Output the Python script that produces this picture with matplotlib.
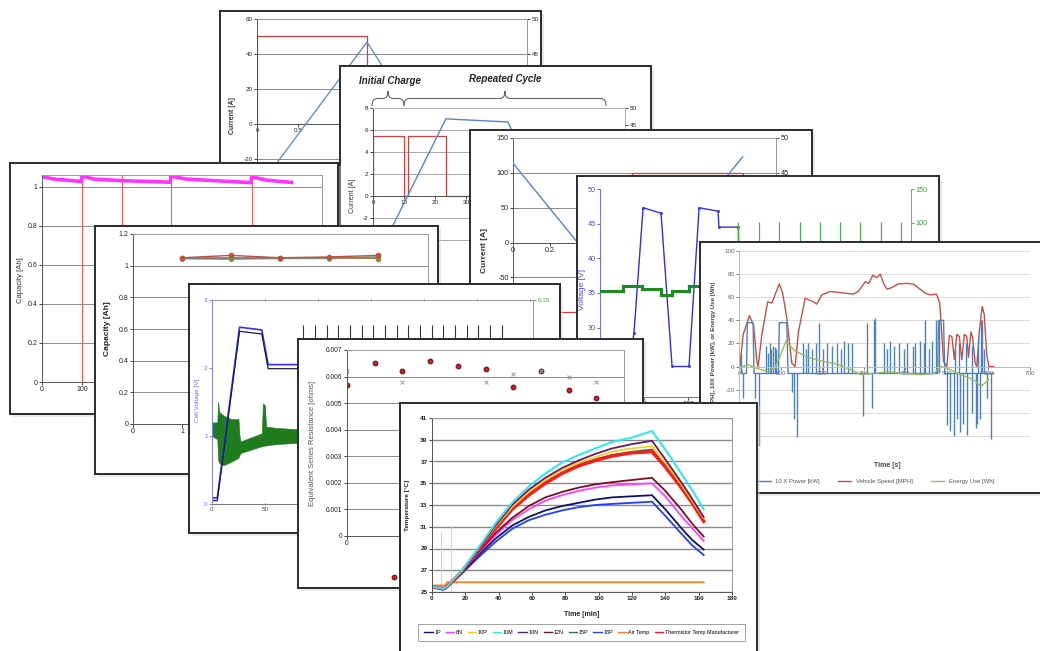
import matplotlib
matplotlib.use("Agg")
import matplotlib.pyplot as plt
from matplotlib.patches import Rectangle, PathPatch
from matplotlib.path import Path
from matplotlib.lines import Line2D

plt.rcParams['font.family'] = ['Liberation Sans', 'DejaVu Sans']
plt.rcParams['axes.linewidth'] = 0.7

# ---------------- Card A : pulse current / voltage ----------------
A_t_current = [0, 0, 1.34, 1.34, 3.3]
A_current = [0, 50, 50, -40, -40]
A_t_voltage = [0.22, 1.34, 1.52, 2.3]
A_voltage = [29.1, 46.7, 43.4, 31.0]
A_yticks = [-40, -20, 0, 20, 40, 60]
A_yticklabels = ['', '-20', '0', '20', '40', '60']
A_xticks = [0, 0.5, 1, 1.5, 2, 2.5, 3]
A_xticklabels = ['0', '0.5', '', '', '', '', '']
A_rticks = [25, 30, 35, 40, 45, 50]
A_rticklabels = ['', '', '', '', '45', '50']

# ---------------- Card B : initial charge / repeated cycle ----------------
B_t_current = [0, 0, 10, 10, 11.3, 11.3, 23.5, 23.5, 81]
B_current = [0, 5.5, 5.5, 0, 0, 5.5, 5.5, 0, 0]
B_t_voltage = [3, 6.5, 23.5, 43.5, 45.5, 50]
B_voltage = [5, 15.6, 46.8, 45.9, 42.0, 35.0]
B_yticks = [-6, -4, -2, 0, 2, 4, 6, 8]
B_yticklabels = ['', '', '-2', '0', '2', '4', '6', '8']
B_xticks = [0, 10, 20, 30, 40, 50, 60, 70, 80]
B_xticklabels = ['0', '10', '20', '30', '', '', '', '', '']
B_rticks = [5, 10, 15, 20, 25, 30, 35, 40, 45, 50]
B_rticklabels = ['', '', '', '', '', '', '', '', '45', '50']
B_titles = ['Initial Charge', 'Repeated Cycle']

# ---------------- Card C : current / voltage ----------------
C_t_current = [0, 0.64, 0.64, 1.24, 1.24, 1.42]
C_current = [-100, -100, 100, 100, -100, -100]
C_t_voltage = [0, 0.35, 0.6, 1.16, 1.24]
C_voltage = [46.4, 35.0, 30.0, 44.7, 47.3]
C_yticks = [-150, -100, -50, 0, 50, 100, 150]
C_yticklabels = ['', '', '-50', '0', '50', '100', '150']
C_xticks = [0, 0.2, 0.4, 0.6, 0.8, 1.0, 1.2, 1.4]
C_xticklabels = ['0', '0.2', '', '', '', '', '', '']
C_rticks = [25, 30, 35, 40, 45, 50]
C_rticklabels = ['', '', '', '', '45', '50']

# ---------------- Card D : voltage + green signal ----------------
D_t_voltage = [30, 38.6, 48.9, 69.3, 81.8, 101, 112.5, 134, 135, 157, 158, 200]
D_voltage = [22, 29.3, 47.3, 46.5, 24.4, 24.4, 47.3, 46.8, 44.5, 44.5, 38, 30]
D_t_green = [0, 26, 26, 48, 48, 69, 69, 82, 82, 101, 101, 160]
D_green = [0, 0, 7, 7, 3, 3, -6, -6, 0, 0, 7, 7]
D_spike_t = [157, 180.7, 203.4, 227.3, 250, 272.7, 295.5, 319.3, 342]
D_spike_top = [101, 101, 101, 101, 101, 101, 101, 101, 101]
D_yticks = [20, 25, 30, 35, 40, 45, 50]
D_yticklabels = ['', '', '30', '35', '40', '45', '50']
D_rticks = [-150, -100, -50, 0, 50, 100, 150]
D_rticklabels = ['', '', '', '', '', '100', '150']
D_xticks = [0, 50, 100, 150, 200, 250, 300, 350]
D_xticklabels = ['', '50', '100', '', '', '', '', '']

# ---------------- Card E : capacity vs cycle ----------------
E_t = [0, 30, 99, 100, 130, 200, 321, 322, 360, 450, 523, 524, 560, 624]
E_cap = [1.053, 1.04, 1.028, 1.056, 1.04, 1.032, 1.024, 1.056, 1.04, 1.03, 1.022, 1.052, 1.035, 1.023]
E_red_t = [100, 200, 322, 524]
E_yticks = [0, 0.2, 0.4, 0.6, 0.8, 1.0]
E_yticklabels = ['0', '0.2', '0.4', '0.6', '0.8', '1']
E_xticks = [0, 100, 200, 300, 400, 500, 600, 700]
E_xticklabels = ['0', '100', '', '', '', '', '', '']

# ---------------- Card F : capacity of several cells ----------------
F_x = [1, 2, 3, 4, 5]
F_red = [1.05, 1.065, 1.05, 1.055, 1.065]
F_olive = [1.05, 1.05, 1.05, 1.05, 1.045]
F_blue = [1.045, 1.045, 1.05, 1.05, 1.055]
F_grey = [1.045, 1.04, 1.045, 1.045, 1.05]
F_yticks = [0, 0.2, 0.4, 0.6, 0.8, 1.0, 1.2]
F_yticklabels = ['0', '0.2', '0.4', '0.6', '0.8', '1', '1.2']
F_xticks = [0, 1, 2, 3, 4, 5, 6]
F_xticklabels = ['0', '1', '', '', '', '', '']

# ---------------- Card G : cell voltage + current band ----------------
G_t_blue = [0, 5, 26, 47, 53, 300]
G_blue = [0.09, 0.09, 2.6, 2.56, 2.05, 2.05]
G_t_dark = [0, 5, 26, 47, 53, 300]
G_dark = [0.05, 0.05, 2.54, 2.5, 1.99, 1.99]
G_t_band = [0, 5, 5.7, 7, 11, 18, 25, 26, 27, 37, 47, 48, 50, 51, 60, 81, 100]
G_band_hi = [0.060, 0.060, 0.075, 0.0675, 0.065, 0.0625, 0.0625, 0.050, 0.046, 0.049,
             0.052, 0.074, 0.0725, 0.057, 0.056, 0.055, 0.055]
G_band_lo = [0.050, 0.0475, 0.0325, 0.030, 0.0285, 0.031, 0.034, 0.036, 0.0375, 0.040,
             0.0425, 0.0425, 0.043, 0.043, 0.044, 0.045, 0.045]
G_spike_t = [86, 97, 108.5, 119, 130, 141.5, 152, 163, 174.5, 185, 196, 207.5, 218, 229,
             240.5, 251, 262, 273.5]
G_spike_top = [2.63] * 18
G_yticks = [0, 1, 2, 3]
G_xticks = [0, 50, 100, 150, 200, 250, 300]
G_xticklabels = ['0', '50', '', '', '', '', '']
G_rticks = [0, 0.05, 0.1, 0.15]
G_rticklabels = ['', '', '', '0.15']

# ---------------- Card H : equivalent series resistance ----------------
H_x = [0, 1, 2, 3, 4, 5, 6, 7, 8, 9]
H_red = [0.0057, 0.0065, 0.0062, 0.0066, 0.0064, 0.0063, 0.0056, 0.0062, 0.0055, 0.0052]
H_x_grey = [0, 2, 5, 6, 7, 8, 9]
H_grey = [0.0062, 0.0058, 0.0058, 0.0061, 0.0062, 0.0060, 0.0058]
H_yticks = [0, 0.001, 0.002, 0.003, 0.004, 0.005, 0.006, 0.007]
H_yticklabels = ['0', '0.001', '0.002', '0.003', '0.004', '0.005', '0.006', '0.007']
H_xticks = [0, 2, 4, 6, 8, 10]
H_xticklabels = ['0', '2', '', '', '', '']
H_labels = ['R (Start)', 'R (End)']

# ---------------- Card I : drive cycle ----------------
I_t_speed = [0, 2, 10, 25, 35, 43, 46, 55, 69, 79, 85, 97, 105, 115, 127, 135, 143, 159, 178,
             187, 199, 219, 243, 275, 287, 304, 312, 322, 332, 340, 348, 356, 364, 384, 404,
             420, 448, 460, 475, 483, 492, 500, 506, 512, 518, 524, 530, 536, 542, 548, 552,
             558, 562, 568, 572, 578, 585, 590, 596, 601, 613]
I_speed = [0, 0, 27.6, 44, 36, 4.6, 0, 27.6, 56, 55, 60.6, 71.6, 63.5, 42, 3, 0, 30, 59, 56.3,
           54, 62, 65, 64, 62.7, 65, 73.5, 72, 79, 77, 80, 71.6, 67, 67.8, 71.6, 72, 71.3,
           63.5, 62, 62.7, 55, 4.6, 0, 27, 26, 6, 28, 26, 6, 28, 26, 8, 30, 25, 3, 0, 30, 52,
           45, 10, 0, 0]
I_t_pbase = [0, 8, 18, 20, 34, 36, 60, 95, 97, 115, 118, 478, 480, 492, 495, 613]
I_pbase = [8, -6, -6, 38, 38, -6, -6, -6, 38, 38, -6, -6, 40, 40, -6, -6]
I_up_t = [5, 65, 70, 74, 78, 82, 86, 90, 155, 160, 167, 175, 186, 193, 203, 211, 223, 235, 245,
          253, 263, 271, 308, 324, 328, 348, 356, 364, 374, 384, 396, 404, 418, 424, 436, 444,
          448, 456, 464, 475, 481, 520, 530, 545, 560, 575, 581, 585, 590]
I_up_v = [12, 18, 12, 20, 15, 18, 17, 15, 20, 15, 20, 15, 20, 38, 15, 20, 18, 20, 15, 22, 20,
          20, 38, 40, 42, 20, 15, 22, 18, 20, 15, 20, 18, 20, 22, 20, 40, 15, 22, 40, 40, 15,
          20, 20, 18, 25, 40, 40, 15]
I_dn_t = [10, 39, 49, 127, 133, 139, 298, 320, 500, 508, 516, 524, 532, 540, 549, 560, 569,
          573, 580, 597, 605]
I_dn_v = [-27, -27, -69, -22, -45, -61, -43, -36, -51, -56, -60, -45, -57, -50, -59, -40, -53,
          -50, -45, -27, -63]
I_t_energy = [0, 22, 42, 66, 86, 100, 113, 133, 165, 197, 237, 277, 293, 325, 357, 397, 437,
              469, 485, 501, 533, 565, 581, 593, 601]
I_energy = [-1, 1.5, -1.5, -4, -1.5, 10, 22, 14, 8, 5, 2, -4, -7, -6, -4.5, -6, -7, -6, 0,
            -1.5, -7, -11.5, -17, -14, -11]
I_yticks = [-80, -60, -40, -20, 0, 20, 40, 60, 80, 100]
I_yticklabels = ['', '', '', '-20', '0', '20', '40', '60', '80', '100']
I_xticks = [0, 100, 200, 300, 400, 500, 600, 700]
I_labels = ['10 X Power [kW]', 'Vehicle Speed [MPH]', 'Energy Use [Wh]']

# ---------------- Card J : temperatures ----------------
J_t = [0, 7, 9, 18, 28, 38, 48, 58, 68, 78, 88, 98, 108, 120, 132, 140, 150, 156, 163]
J_1P = [25.5, 25.3, 25.5, 26.8, 28.4, 29.9, 31.1, 31.9, 32.5, 32.9, 33.2, 33.5, 33.7, 33.8, 33.9, 32.6, 30.8, 29.8, 28.9]
J_6N = [25.5, 25.3, 25.5, 26.9, 28.6, 30.2, 31.6, 32.6, 33.4, 33.9, 34.3, 34.6, 34.8, 34.9, 35.0, 33.8, 31.9, 30.9, 29.7]
J_10P = [25.5, 25.3, 25.5, 27.0, 29.0, 31.0, 32.8, 34.2, 35.3, 36.2, 36.9, 37.4, 37.9, 38.2, 38.4, 36.9, 34.8, 33.4, 31.8]
J_10M = [25.5, 25.3, 25.5, 27.0, 29.1, 31.3, 33.2, 34.7, 35.9, 36.9, 37.6, 38.2, 38.8, 39.2, 39.8, 38.1, 35.8, 34.4, 32.6]
J_10N = [25.5, 25.3, 25.5, 27.0, 29.0, 31.1, 33.0, 34.4, 35.5, 36.4, 37.1, 37.7, 38.2, 38.6, 38.9, 37.2, 35.0, 33.6, 31.9]
J_12N = [25.5, 25.3, 25.5, 26.9, 28.7, 30.4, 31.8, 32.9, 33.7, 34.2, 34.6, 34.9, 35.1, 35.3, 35.5, 34.3, 32.5, 31.3, 30.1]
J_15P = [25.5, 25.3, 25.5, 26.9, 28.9, 30.9, 32.7, 34.0, 35.1, 36.0, 36.7, 37.2, 37.6, 37.9, 38.1, 36.6, 34.6, 33.3, 31.6]
J_18P = [25.4, 25.2, 25.4, 26.7, 28.2, 29.6, 30.8, 31.6, 32.1, 32.5, 32.8, 33.0, 33.1, 33.2, 33.3, 32.0, 30.3, 29.3, 28.4]
J_therm = [25.5, 25.3, 25.5, 26.9, 28.9, 30.8, 32.6, 33.9, 35.0, 35.9, 36.6, 37.1, 37.5, 37.8, 37.9, 36.5, 34.5, 33.2, 31.5]
J_t_air = [0, 8, 9, 163]
J_air = [25.6, 25.6, 25.9, 25.9]
J_glitch_t = [5.4, 11.4]
J_glitch_top = [30.5, 31.2]
J_yticks = [25, 27, 29, 31, 33, 35, 37, 39, 41]
J_xticks = [0, 20, 40, 60, 80, 100, 120, 140, 160, 180]
J_labels = ['1P', '6N', '10P', '10M', '10N', '12N', '15P', '18P', 'Air Temp',
            'Thermistor Temp Manufacturer']

# ====================================================================
W, H = 1040.0, 651.0
fig = plt.figure(figsize=(10.4, 6.51), dpi=100)
fig.patch.set_facecolor('white')


def rect(x0, y0, x1, y1):
    return [x0 / W, 1 - y1 / H, (x1 - x0) / W, (y1 - y0) / H]


_n = [0]


def make_card(x0, y0, x1, y1, z):
    sh = Rectangle(((x0 + 3) / W, 1 - (y1 + 3) / H), (x1 - x0) / W, (y1 - y0) / H,
                   transform=fig.transFigure, facecolor='#cfcfcf', edgecolor='none',
                   alpha=0.45, zorder=z - 0.5)
    fig.add_artist(sh)
    _n[0] += 1
    c = fig.add_axes(rect(x0, y0, x1, y1), zorder=z, label='card%d' % _n[0])
    c.set_xlim(x0, x1)
    c.set_ylim(y1, y0)
    c.set_xticks([])
    c.set_yticks([])
    c.set_facecolor('white')
    for s in c.spines.values():
        s.set_color('#2b2b2b')
        s.set_linewidth(1.4)
    return c


def make_plot(x0, y0, x1, y1, z, size=4.5, color='#222222', dz=0.1):
    _n[0] += 1
    ax = fig.add_axes(rect(x0, y0, x1, y1), zorder=z + dz, label='plot%d' % _n[0])
    ax.patch.set_visible(False)
    ax.tick_params(labelsize=size, length=2, width=0.6, pad=1.2, colors=color)
    return ax


def make_right(x0, y0, x1, y1, z, xlim, size=4.5, color='#222222', dz=0.2):
    _n[0] += 1
    ax = fig.add_axes(rect(x0, y0, x1, y1), zorder=z + dz, label='right%d' % _n[0])
    ax.patch.set_visible(False)
    ax.set_xlim(*xlim)
    ax.xaxis.set_visible(False)
    ax.yaxis.tick_right()
    for k in ['left', 'top', 'bottom']:
        ax.spines[k].set_visible(False)
    ax.tick_params(labelsize=size, length=2, width=0.6, pad=1.2, colors=color)
    return ax


def grey_frame(ax, color='#9a9a9a'):
    ax.spines['top'].set_color(color)
    ax.spines['right'].set_color(color)
    ax.spines['left'].set_color('#555555')
    ax.spines['bottom'].set_color('#555555')


def brace(card_ax, x0, x1, y_end, y_tip, r=5):
    xm = (x0 + x1) / 2.0
    yb = (y_end + y_tip) / 2.0
    verts = [(x0, y_end), (x0, yb), (x0 + r, yb), (xm - r, yb), (xm, yb), (xm, y_tip),
             (xm, yb), (xm + r, yb), (x1 - r, yb), (x1, yb), (x1, y_end)]
    codes = [Path.MOVETO, Path.CURVE3, Path.CURVE3, Path.LINETO, Path.CURVE3, Path.CURVE3,
             Path.CURVE3, Path.CURVE3, Path.LINETO, Path.CURVE3, Path.CURVE3]
    card_ax.add_patch(PathPatch(Path(verts, codes), fill=False, edgecolor='#666666', lw=0.8))


RED = '#d2403c'
BLUE = '#5b82c8'

# ---------------- Card A ----------------
z = 10
ca = make_card(220, 11, 541, 245, z)
A_xlim = (0, 3.29)
ax = make_plot(257, 19, 527, 211.5, z)
ax.plot(A_t_current, A_current, color=RED, lw=0.9)
ax.set_xlim(*A_xlim)
ax.set_ylim(-50, 60)
ax.set_yticks(A_yticks)
ax.set_yticklabels(A_yticklabels)
ax.set_xticks(A_xticks)
ax.set_xticklabels(A_xticklabels)
ax.spines['bottom'].set_position(('data', 0))
ax.yaxis.grid(True, color='#8a8a8a', lw=0.7)
ax.set_axisbelow(True)
grey_frame(ax)
ax2 = make_right(257, 19, 527, 211.5, z, A_xlim)
ax2.plot(A_t_voltage, A_voltage, color=BLUE, lw=0.9)
ax2.set_ylim(22.5, 50)
ax2.set_yticks(A_rticks)
ax2.set_yticklabels(A_rticklabels)
ax2.spines['right'].set_color('#9a9a9a')
ca.text(232, 116, 'Current [A]', rotation=90, fontsize=5, fontweight='bold',
        ha='center', va='center', color='#333333')

# ---------------- Card B ----------------
z = 20
cb = make_card(340, 66, 651, 300, z)
B_xlim = (0, 81.3)
ax = make_plot(373, 108, 625, 262, z)
ax.plot(B_t_current, B_current, color=RED, lw=0.9)
ax.set_xlim(*B_xlim)
ax.set_ylim(-6, 8)
ax.set_yticks(B_yticks)
ax.set_yticklabels(B_yticklabels)
ax.set_xticks(B_xticks)
ax.set_xticklabels(B_xticklabels)
ax.spines['bottom'].set_position(('data', 0))
ax.yaxis.grid(True, color='#9a9a9a', lw=0.6)
ax.set_axisbelow(True)
grey_frame(ax, '#b0b0b0')
ax2 = make_right(373, 108, 625, 262, z, B_xlim)
ax2.plot(B_t_voltage, B_voltage, color=BLUE, lw=1.0)
ax2.set_ylim(4.7, 50)
ax2.set_yticks(B_rticks)
ax2.set_yticklabels(B_rticklabels)
ax2.spines['right'].set_color('#b0b0b0')
cb.text(390, 81, B_titles[0], fontsize=7, fontweight='bold', style='italic',
        ha='center', va='center', color='#222222')
cb.text(505, 79, B_titles[1], fontsize=7, fontweight='bold', style='italic',
        ha='center', va='center', color='#222222')
brace(cb, 372, 404, 106, 91)
brace(cb, 404, 606, 106, 91)
cb.text(352, 196, 'Current [A]', rotation=90, fontsize=5, ha='center', va='center',
        color='#333333')

# ---------------- Card C ----------------
z = 30
cc = make_card(470, 130, 812, 360, z)
C_xlim = (0, 1.42)
ax = make_plot(513, 138, 776, 347, z, size=5.2)
ax.plot(C_t_current, C_current, color=RED, lw=0.9)
ax.set_xlim(*C_xlim)
ax.set_ylim(-150, 150)
ax.set_yticks(C_yticks)
ax.set_yticklabels(C_yticklabels)
ax.set_xticks(C_xticks)
ax.set_xticklabels(C_xticklabels)
ax.spines['bottom'].set_position(('data', 0))
ax.yaxis.grid(True, color='#8a8a8a', lw=0.7)
ax.set_axisbelow(True)
grey_frame(ax)
ax2 = make_right(513, 138, 776, 347, z, C_xlim, size=5.2)
ax2.plot(C_t_voltage, C_voltage, color=BLUE, lw=1.0)
ax2.set_ylim(20.1, 50)
ax2.set_yticks(C_rticks)
ax2.set_yticklabels(C_rticklabels)
ax2.spines['right'].set_color('#9a9a9a')
cc.text(484, 250, 'Current [A]', rotation=90, fontsize=6, fontweight='bold',
        ha='center', va='center', color='#333333')

# ---------------- Card D ----------------
z = 40
cd = make_card(577, 176, 939, 410, z)
D_xlim = (0, 353)
ax = make_plot(600, 189, 911, 397, z, size=5.2, color='#4a4ae0')
ax.plot(D_t_voltage, D_voltage, color='#3030e0', lw=1.0, marker='.', ms=2)
ax.set_xlim(*D_xlim)
ax.set_ylim(20, 50)
ax.set_yticks(D_yticks)
ax.set_yticklabels(D_yticklabels)
ax.set_xticks(D_xticks)
ax.set_xticklabels(D_xticklabels)
ax.tick_params(axis='x', colors='#333333')
ax.spines['left'].set_color('#6a6aff')
ax.spines['top'].set_visible(False)
ax.spines['right'].set_visible(False)
ax.spines['bottom'].set_color('#777777')
ax2 = make_right(600, 189, 911, 397, z, D_xlim, size=5.2, color='#3c9a3c')
ax2.plot(D_t_green, D_green, color='#1f8a1f', lw=2.2, marker='s', ms=1.5)
ax2.vlines(D_spike_t, 0, D_spike_top, color='#4caf50', lw=0.9)
ax2.set_ylim(-156, 150)
ax2.set_yticks(D_rticks)
ax2.set_yticklabels(D_rticklabels)
ax2.spines['right'].set_color('#5cb85c')
cd.text(583, 290, 'Voltage [V]', rotation=90, fontsize=6, ha='center', va='center',
        color='#4a4ae0')

# ---------------- Card E ----------------
z = 50
ce = make_card(10, 163, 338, 414, z)
ax = make_plot(42, 175, 322, 382, z, size=5)
for t in E_red_t:
    ax.axvline(t, color='#ff5a5a', lw=0.8)
ax.plot(E_t, E_cap, color='#ff33ff', lw=2.6)
ax.set_xlim(0, 700)
ax.set_ylim(0, 1.061)
ax.set_yticks(E_yticks)
ax.set_yticklabels(E_yticklabels)
ax.set_xticks(E_xticks)
ax.set_xticklabels(E_xticklabels)
ax.yaxis.grid(True, color='#8a8a8a', lw=0.7)
ax.set_axisbelow(True)
grey_frame(ax)
ce.text(21, 280, 'Capacity [Ah]', rotation=90, fontsize=5.5, ha='center', va='center',
        color='#333333')

# ---------------- Card F ----------------
z = 60
cf = make_card(95, 226, 438, 474, z)
ax = make_plot(133, 234, 428, 424, z, size=5)
ax.plot(F_x, F_grey, color='#9a9ab0', lw=1.0, marker='o', ms=2.5)
ax.plot(F_x, F_blue, color='#6a7fc0', lw=1.0, marker='o', ms=2.5)
ax.plot(F_x, F_olive, color='#8a8a3a', lw=1.0, marker='o', ms=3)
ax.plot(F_x, F_red, color='#c0503c', lw=1.0, marker='o', ms=3)
ax.set_xlim(0, 6.02)
ax.set_ylim(0, 1.2)
ax.set_yticks(F_yticks)
ax.set_yticklabels(F_yticklabels)
ax.set_xticks(F_xticks)
ax.set_xticklabels(F_xticklabels)
ax.yaxis.grid(True, color='#8a8a8a', lw=0.7)
ax.set_axisbelow(True)
grey_frame(ax)
cf.text(108, 329, 'Capacity [Ah]', rotation=90, fontsize=6, fontweight='bold',
        ha='center', va='center', color='#222222')

# ---------------- Card G ----------------
z = 70
cg = make_card(189, 284, 560, 533, z)
G_xlim = (0, 303)
ax2 = make_right(212, 300, 533, 504, z, G_xlim, size=4.5, color='#44aa44', dz=0.05)
ax2.fill_between(G_t_band, G_band_lo, G_band_hi, color='#1e7b1e', lw=0.4)
ax2.set_ylim(0, 0.15)
ax2.set_yticks(G_rticks)
ax2.set_yticklabels(G_rticklabels)
ax2.spines['right'].set_color('#66bb66')
ax = make_plot(212, 300, 533, 504, z, size=4.5, color='#6a6aff')
ax.plot(G_t_blue, G_blue, color='#2f2fff', lw=1.2)
ax.plot(G_t_dark, G_dark, color='#1a1a55', lw=0.9)
ax.vlines(G_spike_t, 1.95, G_spike_top, color='#333333', lw=0.8)
ax.set_xlim(*G_xlim)
ax.set_ylim(0, 3)
ax.set_yticks(G_yticks)
ax.set_xticks(G_xticks)
ax.set_xticklabels(G_xticklabels)
ax.tick_params(axis='x', colors='#444444', top=True, direction='inout')
ax.spines['left'].set_color('#8080ff')
ax.spines['top'].set_color('#9a9a9a')
ax.spines['right'].set_visible(False)
ax.spines['bottom'].set_color('#777777')
cg.text(197, 400, 'Cell Voltage [V]', rotation=90, fontsize=4.6, ha='center',
        va='center', color='#6a6aff')

# ---------------- Card H ----------------
z = 80
ch = make_card(298, 339, 643, 588, z)
ax = make_plot(347, 350, 624, 536, z, size=4.8)
ax.plot(H_x, H_red, ls='none', marker='o', ms=3.2, color='#c0282d', mec='#8a1515',
        label=H_labels[0])
ax.plot(H_x_grey, H_grey, ls='none', marker='x', ms=2.5, mew=0.7, color='#9a9a9a',
        label=H_labels[1])
ax.set_xlim(0, 10)
ax.set_ylim(0, 0.007)
ax.set_yticks(H_yticks)
ax.set_yticklabels(H_yticklabels)
ax.set_xticks(H_xticks)
ax.set_xticklabels(H_xticklabels)
ax.yaxis.grid(True, color='#8a8a8a', lw=0.7)
ax.set_axisbelow(True)
grey_frame(ax)
ax.legend(loc='center left', bbox_to_anchor=(0.125, -0.225), ncol=2, fontsize=4.5,
          frameon=False, handletextpad=0.2, markerscale=1.0, columnspacing=1.0)
ch.text(312, 443, 'Equivalent Series Resistance [ohms]', rotation=90, fontsize=5.5,
        ha='center', va='center', color='#555555')

# ---------------- Card I ----------------
z = 90
ci = make_card(700, 242, 1046, 493, z)
ax = make_plot(739, 251, 1030, 459, z, size=4.5, color='#666666')
ax.plot(I_t_speed, I_speed, color='#c0504d', lw=1.0)
ax.plot(I_t_pbase, I_pbase, color='#4f81bd', lw=1.0)
ax.vlines(I_up_t, -6, I_up_v, color='#4f81bd', lw=1.0)
ax.vlines(I_dn_t, -6, I_dn_v, color='#4f81bd', lw=1.0)
ax.plot(I_t_energy, I_energy, color='#9bbb59', lw=1.0)
ax.set_xlim(0, 700)
ax.set_ylim(-80, 100)
ax.set_yticks(I_yticks)
ax.set_yticklabels(I_yticklabels)
ax.set_xticks(I_xticks)
ax.spines['bottom'].set_position(('data', 0))
ax.spines['bottom'].set_color('#bbbbbb')
ax.spines['left'].set_color('#bbbbbb')
ax.spines['top'].set_visible(False)
ax.spines['right'].set_visible(False)
ax.yaxis.grid(True, color='#dcdcdc', lw=0.7)
ax.set_axisbelow(True)
handles = [Line2D([], [], color='#4f81bd', lw=1), Line2D([], [], color='#c0504d', lw=1),
           Line2D([], [], color='#9bbb59', lw=1)]
leg = ax.legend(handles, I_labels, loc='center', bbox_to_anchor=(0.47, -0.11), ncol=3,
                fontsize=4.3, frameon=False, handlelength=2.2, columnspacing=3.0)
for tx in leg.get_texts():
    tx.set_color('#555555')
ci.text(887, 466, 'Time [s]', fontsize=5, fontweight='bold', ha='center', va='center',
        color='#444444')
ci.text(713, 355, 'Speed [MPH], 10X Power [kW], or Energy Use [Wh]', rotation=90,
        fontsize=4.4, fontweight='bold', ha='center', va='center', color='#444444')

# ---------------- Card J ----------------
z = 100
cj = make_card(400, 403, 757, 652, z)
ax = make_plot(432, 418, 732, 592, z, size=4.6)
ax.vlines(J_glitch_t, 25, J_glitch_top, color='#f0e040', lw=0.7)
ax.plot(J_t_air, J_air, color='#ff7f27', lw=1.3, label=J_labels[8])
ax.plot(J_t, J_18P, color='#1f3fff', lw=1.3, label=J_labels[7])
ax.plot(J_t, J_1P, color='#101070', lw=1.3, label=J_labels[0])
ax.plot(J_t, J_6N, color='#ff40ff', lw=1.3, label=J_labels[1])
ax.plot(J_t, J_12N, color='#7a1020', lw=1.3, label=J_labels[5])
ax.plot(J_t, J_15P, color='#20707a', lw=1.3, label=J_labels[6])
ax.plot(J_t, J_therm, color='#ff1a1a', lw=2.4, label=J_labels[9])
ax.plot(J_t, J_10P, color='#f5d020', lw=1.3, label=J_labels[2])
ax.plot(J_t, J_10N, color='#6a1a6a', lw=1.3, label=J_labels[4])
ax.plot(J_t, J_10M, color='#30e8f0', lw=1.5, label=J_labels[3])
ax.set_xlim(0, 180)
ax.set_ylim(25, 41)
ax.set_yticks(J_yticks)
ax.set_xticks(J_xticks)
for lab in ax.get_yticklabels() + ax.get_xticklabels():
    lab.set_fontweight('bold')
ax.yaxis.grid(True, color='#8a8a8a', lw=1.0)
ax.set_axisbelow(True)
grey_frame(ax)
hl, ll = ax.get_legend_handles_labels()
order = [J_labels.index(l) for l in ll]
pairs = sorted(zip(order, hl, ll))
leg = ax.legend([p[1] for p in pairs], [p[2] for p in pairs], loc='center',
                bbox_to_anchor=(-0.047, -0.293, 1.09, 0.121), mode='expand', ncol=10,
                fontsize=3.9, handlelength=1.6, handletextpad=0.3, columnspacing=0.4,
                borderaxespad=0, borderpad=1.1, fancybox=False, edgecolor='#777777')
leg.get_frame().set_linewidth(0.6)
for line in leg.get_lines():
    line.set_linewidth(1.0)
cj.text(582, 615, 'Time [min]', fontsize=5, fontweight='bold', ha='center', va='center',
        color='#222222')
cj.text(408, 505, 'Temperature [°C]', rotation=90, fontsize=4.6, fontweight='bold',
        ha='center', va='center', color='#222222')

fig.savefig('out.png', dpi=100, facecolor='white')
